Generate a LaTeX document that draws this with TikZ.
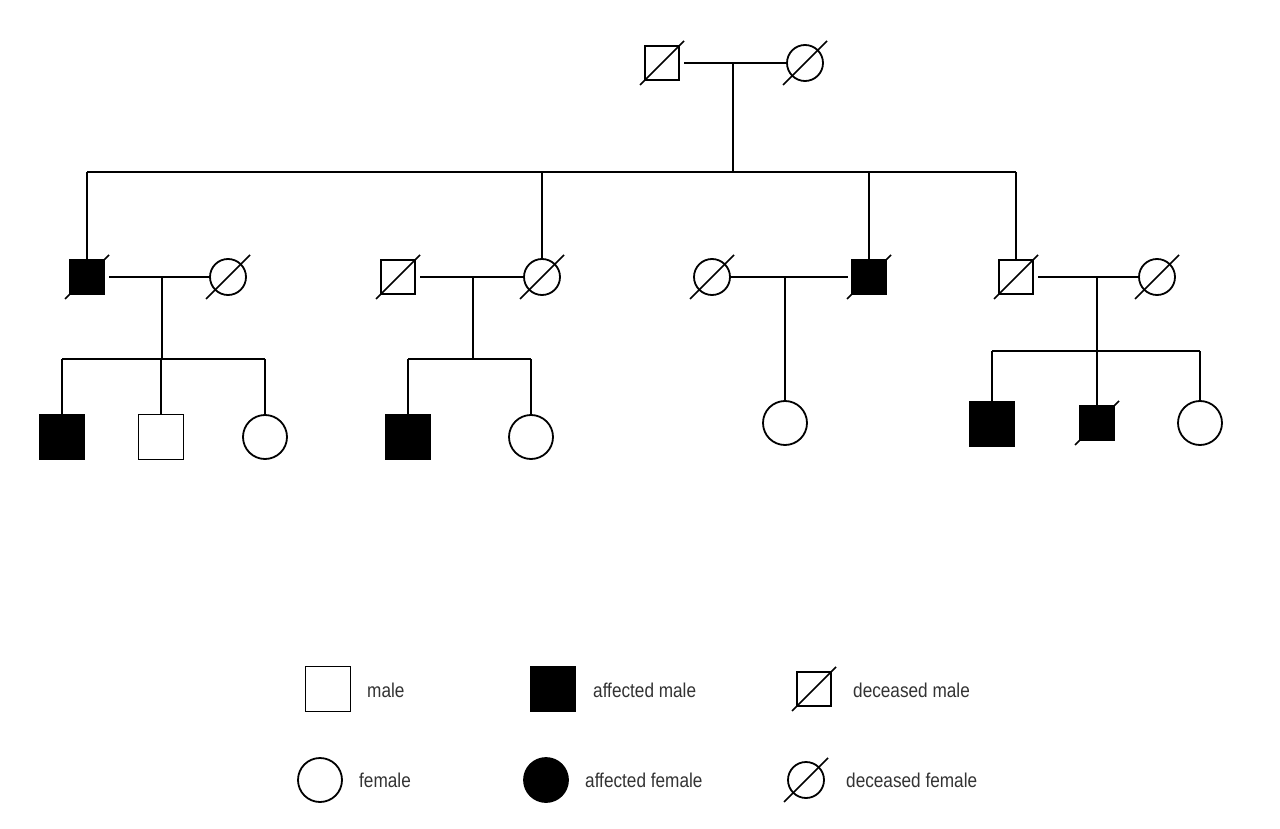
\documentclass[tikz,border=0pt]{standalone}
\usepackage{fontspec}
\newfontfamily\legendfont[FakeStretch=0.86]{Liberation Sans}
\begin{document}
\begin{tikzpicture}[x=1pt,y=-1pt,
  shapeline/.style={draw=black,line width=1.8pt,inner sep=0pt,outer sep=0pt},
  sq/.style={shapeline,rectangle,minimum size=45},
  asq/.style={sq,fill=black},
  dsq/.style={shapeline,rectangle,minimum size=34},
  adsq/.style={dsq,fill=black},
  circ/.style={shapeline,circle,minimum size=44},
  acirc/.style={circ,fill=black},
  dcirc/.style={shapeline,circle,minimum size=36},
  link/.style={draw=black,line width=1.4pt},
  parent/.style={draw=black,line width=2pt},
  slash/.style={draw=black,line width=1.6pt},
  lbl/.style={anchor=west,inner sep=0pt,font=\legendfont\fontsize{20}{22}\selectfont,text=black!80}]
\useasboundingbox (0,0) rectangle (1280,829);

% generation I
\node[dsq] (gf) at (662,63) {};
\node[dcirc] (gm) at (805,63) {};
\coordinate (m0) at (733,63);
\coordinate (s0) at (733,172);
\coordinate (s0l) at (87,172);
\coordinate (s0r) at (1016,172);

% generation II
\node[adsq] (f1m) at (87,277) {};
\node[dcirc] (f1w) at (228,277) {};
\node[dsq] (f2m) at (398,277) {};
\node[dcirc] (f2w) at (542,277) {};
\node[dcirc] (f3w) at (712,277) {};
\node[adsq] (f3m) at (869,277) {};
\node[dsq] (f4m) at (1016,277) {};
\node[dcirc] (f4w) at (1157,277) {};

\coordinate (m1) at (162,277);
\coordinate (s1) at (162,359);
\coordinate (m2) at (473,277);
\coordinate (s2) at (473,359);
\coordinate (m3) at (785,277);
\coordinate (m4) at (1097,277);
\coordinate (s4) at (1097,351);

% generation III
\node[asq] (c11) at (62,437) {};
\node[sq] (c12) at (161,437) {};
\node[circ] (c13) at (265,437) {};
\node[asq] (c21) at (408,437) {};
\node[circ] (c22) at (531,437) {};
\node[circ] (c31) at (785,423) {};
\node[asq] (c41) at (992,424) {};
\node[adsq] (c42) at (1097,423) {};
\node[circ] (c43) at (1200,423) {};

% slashes (deceased)
\foreach \n in {gf,gm,f1m,f1w,f2m,f2w,f3w,f3m,f4m,f4w,c42}
  \draw[slash] ([shift={(-22,22)}]\n.center) -- ([shift={(22,-22)}]\n.center);

% connectors gen I
\draw[link] ([xshift=5pt]gf.east) -- (gm.west);
\draw[parent] (m0) -- (s0);
\draw[link] (s0l) -- (s0r);
\draw[link] (s0l) -- (f1m.north);
\draw[link] (s0l -| f2w) -- (f2w.north);
\draw[link] (s0l -| f3m) -- (f3m.north);
\draw[link] (s0r) -- (f4m.north);

% family 1
\draw[link] ([xshift=5pt]f1m.east) -- (f1w.west);
\draw[parent] (m1) -- (s1);
\draw[link] (s1 -| c11) -- (s1 -| c13);
\draw[link] (s1 -| c11) -- (c11.north);
\draw[link] (s1 -| c12) -- (c12.north);
\draw[link] (s1 -| c13) -- (c13.north);

% family 2
\draw[link] ([xshift=5pt]f2m.east) -- (f2w.west);
\draw[parent] (m2) -- (s2);
\draw[link] (s2 -| c21) -- (s2 -| c22);
\draw[link] (s2 -| c21) -- (c21.north);
\draw[link] (s2 -| c22) -- (c22.north);

% family 3
\draw[link] (f3w.east) -- ([xshift=-4pt]f3m.west);
\draw[link] (m3) -- (c31.north);

% family 4
\draw[link] ([xshift=5pt]f4m.east) -- (f4w.west);
\draw[parent] (m4) -- (s4);
\draw[link] (s4 -| c41) -- (s4 -| c43);
\draw[link] (s4 -| c41) -- (c41.north);
\draw[link] (s4 -| c42) -- (c42.north);
\draw[link] (s4 -| c43) -- (c43.north);

% legend
\node[sq] (lm) at (328,689) {};
\node[asq] (la) at (553,689) {};
\node[dsq] (ld) at (814,689) {};
\node[circ] (lf) at (320,780) {};
\node[acirc] (laf) at (546,780) {};
\node[dcirc] (ldf) at (806,780) {};
\draw[slash] ([shift={(-22,22)}]ld.center) -- ([shift={(22,-22)}]ld.center);
\draw[slash] ([shift={(-22,22)}]ldf.center) -- ([shift={(22,-22)}]ldf.center);
\node[lbl] (tm) at (367,690) {male};
\node[lbl] (ta) at (593,690) {affected male};
\node[lbl] (td) at (853,690) {deceased male};
\node[lbl] (tf) at (359,780) {female};
\node[lbl] (taf) at (585,780) {affected female};
\node[lbl] (tdf) at (846,780) {deceased female};
\end{tikzpicture}
\end{document}
